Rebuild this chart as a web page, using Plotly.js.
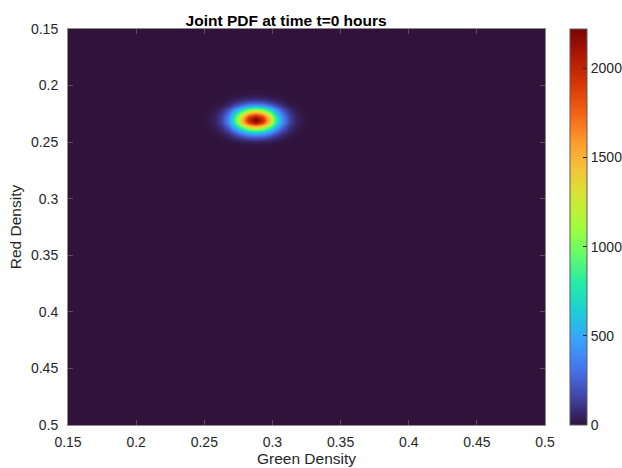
<!DOCTYPE html>
<html>
<head>
<meta charset="utf-8">
<script src="https://cdn.plot.ly/plotly-3.0.1.min.js"></script>
<style>html,body{margin:0;padding:0;background:#fff;}#chart{width:622px;height:468px;}</style>
</head>
<body>
<div id="chart"></div>
<script>
// Grid coordinates (Green density along x, Red density along y)
var greenDensity = [0.2475,0.2525,0.2575,0.2625,0.2675,0.2725,0.2775,0.2825,0.2875,0.2925,0.2975,0.3025,0.3075,0.3125,0.3175,0.3225,0.3275];
var redDensity = [0.205,0.2075,0.21,0.2125,0.215,0.2175,0.22,0.2225,0.225,0.2275,0.23,0.2325,0.235,0.2375,0.24,0.2425,0.245,0.2475,0.25,0.2525,0.255];
// Joint PDF values (rows follow redDensity, columns follow greenDensity)
var jointPDF = [
  [0,0,0,0,1,2,3,5,5,5,3,2,1,0,0,0,0],
  [0,0,0,1,3,6,11,15,17,15,11,6,3,1,0,0,0],
  [0,0,1,3,8,18,30,42,47,42,30,18,8,3,1,0,0],
  [0,1,2,8,21,44,75,104,116,104,75,44,21,8,2,1,0],
  [0,1,5,17,46,97,165,228,254,228,165,97,46,17,5,1,0],
  [1,3,10,34,89,188,320,442,492,442,320,188,89,34,10,3,1],
  [1,4,18,58,152,323,551,760,846,760,551,323,152,58,18,4,1],
  [1,7,27,89,232,492,841,1159,1291,1159,841,492,232,89,27,7,1],
  [2,9,37,120,314,665,1136,1567,1745,1567,1136,665,314,120,37,9,2],
  [2,11,44,143,376,797,1361,1878,2090,1878,1361,797,376,143,44,11,2],
  [2,12,47,152,400,846,1446,1994,2220,1994,1446,846,400,152,47,12,2],
  [2,11,44,143,376,797,1361,1878,2090,1878,1361,797,376,143,44,11,2],
  [2,9,37,120,314,665,1136,1567,1745,1567,1136,665,314,120,37,9,2],
  [1,7,27,89,232,492,841,1159,1291,1159,841,492,232,89,27,7,1],
  [1,4,18,58,152,323,551,760,846,760,551,323,152,58,18,4,1],
  [1,3,10,34,89,188,320,442,492,442,320,188,89,34,10,3,1],
  [0,1,5,17,46,97,165,228,254,228,165,97,46,17,5,1,0],
  [0,1,2,8,21,44,75,104,116,104,75,44,21,8,2,1,0],
  [0,0,1,3,8,18,30,42,47,42,30,18,8,3,1,0,0],
  [0,0,0,1,3,6,11,15,17,15,11,6,3,1,0,0,0],
  [0,0,0,0,1,2,3,5,5,5,3,2,1,0,0,0,0]
];
var axisTicks = [0.15,0.2,0.25,0.3,0.35,0.4,0.45,0.5];
var axisTickLabels = ['0.15','0.2','0.25','0.3','0.35','0.4','0.45','0.5'];
var colorbarTicks = [0,500,1000,1500,2000];
var colorbarTickLabels = ['0','500','1000','1500','2000'];
var pdfMax = 2220;

var turboHex = ['#30123b','#4145ab','#4675ed','#39a2fc','#1bcfd4','#24eca6','#61fc6c','#a4fc3b','#d1e834','#f3c63a','#fe9b2d','#f36315','#d93806','#b11901','#7a0403'];
var turbo = turboHex.map(function(c,i){ return [i/(turboHex.length-1), c]; });

var textColor = '#262626';
var trace = {
  type: 'heatmap',
  x: greenDensity,
  y: redDensity,
  z: jointPDF,
  zmin: 0,
  zmax: pdfMax,
  zsmooth: 'best',
  colorscale: turbo,
  showscale: true,
  hoverinfo: 'skip',
  colorbar: {
    x: 1.0524, xanchor: 'left', xpad: 0,
    y: 0.5, yanchor: 'middle', len: 1, lenmode: 'fraction', ypad: 0,
    thickness: 17, thicknessmode: 'pixels',
    outlinewidth: 1, outlinecolor: '#5a5a5a',
    tickmode: 'array', tickvals: colorbarTicks, ticktext: colorbarTickLabels,
    ticks: 'inside', ticklen: 4, tickcolor: '#262626', tickwidth: 1,
    tickfont: {family: 'Liberation Sans, Arial, sans-serif', size: 14, color: textColor}
  }
};

var axisCommon = {
  tickmode: 'array', tickvals: axisTicks, ticktext: axisTickLabels,
  ticks: 'inside', ticklen: 5, tickwidth: 1, tickcolor: '#555555',
  showline: true, linecolor: '#8c8c8c', linewidth: 1, mirror: 'ticks',
  showgrid: false, zeroline: false, automargin: false,
  tickfont: {family: 'Liberation Sans, Arial, sans-serif', size: 14, color: textColor}
};

var layout = {
  width: 622, height: 468,
  margin: {l: 68, r: 77, t: 29, b: 43, pad: 0, autoexpand: false},
  paper_bgcolor: '#ffffff',
  plot_bgcolor: '#30123b',
  font: {family: 'Liberation Sans, Arial, sans-serif', color: textColor},
  title: {
    text: '<b>Joint PDF at time t=0 hours</b>',
    font: {family: 'Liberation Sans, Arial, sans-serif', size: 15.5, color: '#000000'},
    xref: 'container', x: 0.46, xanchor: 'center',
    yref: 'paper', y: 1, yanchor: 'bottom', pad: {b: 3}
  },
  xaxis: Object.assign({}, axisCommon, {
    range: [0.15, 0.5],
    ticklabelstandoff: 4,
    title: {text: 'Green Density', standoff: 0, font: {family: 'Liberation Sans, Arial, sans-serif', size: 15.5, color: textColor}}
  }),
  yaxis: Object.assign({}, axisCommon, {
    range: [0.5, 0.15],
    ticklabelstandoff: 6,
    title: {text: 'Red Density', standoff: 5, font: {family: 'Liberation Sans, Arial, sans-serif', size: 15.5, color: textColor}}
  })
};

Plotly.newPlot('chart', [trace], layout, {displayModeBar: false, staticPlot: true});
</script>
</body>
</html>
